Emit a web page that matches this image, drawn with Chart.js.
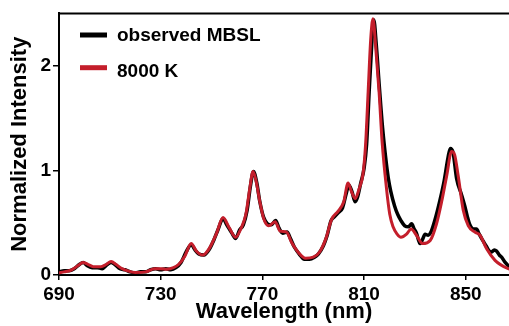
<!DOCTYPE html>
<html>
<head>
<meta charset="utf-8">
<script src="https://cdn.jsdelivr.net/npm/chart.js@4/dist/chart.umd.min.js"></script>
<style>
    html, body { margin: 0; padding: 0; background: #fff; overflow: hidden; }
    #wrap { width: 509px; height: 326px; position: relative; }
</style>
</head>
<body>
<div id="wrap"><canvas id="spectrumChart"></canvas></div>
<script>
// Observed MBSL spectrum (wavelength nm / normalized intensity)
const observedNm = [690, 692, 694, 696, 698, 699.5, 701, 703, 705, 707, 709, 710.5, 712, 714, 716, 718, 720, 722, 724, 726, 728, 730, 732, 734, 736, 738, 740, 742, 743.5, 745, 747, 749, 751, 752.5, 754.5, 756, 758, 759.5, 761, 762.5, 764, 765.3, 766.5, 767.8, 769, 770.5, 772, 773.5, 775.2, 776.5, 778, 779.7, 781, 782.5, 784.5, 786.5, 788.5, 790.5, 792, 794, 795.5, 797, 798.5, 800, 801.5, 803, 804, 805.2, 806.5, 807.5, 808.7, 810, 811, 812, 813, 813.8, 814.8, 816, 817.3, 818.5, 819.5, 820.5, 822, 823.2, 824.5, 826, 827.5, 828.7, 829.7, 830.6, 832, 833, 834, 835.2, 836.3, 837.8, 839.8, 841.5, 843, 843.9, 845, 846.4, 848.3, 849.6, 850.6, 851.6, 853, 854.2, 855.3, 856.2, 857.2, 858.2, 859.2, 860.2, 861.2, 862.1, 863.2, 864.1, 865.5, 866.7, 870];
const observedVal = [0.03, 0.04, 0.04, 0.06, 0.10, 0.12, 0.09, 0.07, 0.07, 0.06, 0.10, 0.12, 0.10, 0.06, 0.05, 0.03, 0.02, 0.03, 0.03, 0.05, 0.06, 0.05, 0.06, 0.05, 0.07, 0.12, 0.22, 0.29, 0.24, 0.20, 0.19, 0.24, 0.34, 0.43, 0.54, 0.48, 0.40, 0.35, 0.43, 0.48, 0.62, 0.85, 0.99, 0.88, 0.70, 0.55, 0.49, 0.48, 0.52, 0.45, 0.40, 0.41, 0.35, 0.27, 0.20, 0.15, 0.15, 0.17, 0.20, 0.28, 0.38, 0.52, 0.56, 0.60, 0.64, 0.78, 0.86, 0.80, 0.70, 0.75, 0.88, 1.02, 1.25, 1.75, 2.20, 2.44, 2.20, 1.80, 1.40, 1.12, 0.93, 0.80, 0.66, 0.58, 0.52, 0.47, 0.46, 0.49, 0.44, 0.40, 0.30, 0.34, 0.39, 0.38, 0.41, 0.52, 0.71, 0.90, 1.12, 1.21, 1.17, 0.92, 0.77, 0.66, 0.56, 0.48, 0.44, 0.44, 0.39, 0.35, 0.31, 0.27, 0.23, 0.22, 0.24, 0.23, 0.19, 0.17, 0.12, 0.09, 0.06];

// Simulated spectrum at 8000 K
const modelNm = [690, 692, 695, 697.5, 699.4, 701.5, 703.5, 706.5, 708.5, 710.5, 712.5, 714.5, 717, 720, 724, 727.6, 730, 732.5, 735, 737, 739.5, 742, 744, 746.5, 749, 752, 754.5, 757, 759.5, 761.5, 763.5, 765, 766.3, 767.5, 769, 770.5, 772.5, 775, 777, 779.5, 781.5, 784, 787, 790, 792.5, 795, 797.2, 799.8, 802, 803.7, 805, 806.5, 808, 809.6, 810.6, 811.6, 812.6, 813.5, 814.5, 815.9, 817.1, 818.8, 820.1, 821.4, 823, 824.5, 826.7, 828.5, 830.6, 833, 836, 838.5, 840.5, 842.5, 844.4, 845.6, 847, 849, 851, 853.6, 855.6, 858.2, 861.5, 866.7, 870];
const modelVal = [0.02, 0.03, 0.05, 0.09, 0.12, 0.10, 0.08, 0.08, 0.10, 0.13, 0.10, 0.065, 0.04, 0.025, 0.03, 0.06, 0.06, 0.055, 0.07, 0.10, 0.18, 0.30, 0.23, 0.19, 0.25, 0.40, 0.55, 0.45, 0.36, 0.44, 0.58, 0.82, 0.99, 0.90, 0.70, 0.54, 0.47, 0.51, 0.42, 0.41, 0.31, 0.22, 0.16, 0.17, 0.22, 0.35, 0.53, 0.61, 0.70, 0.88, 0.80, 0.73, 0.82, 0.97, 1.25, 1.75, 2.25, 2.45, 2.20, 1.75, 1.27, 0.83, 0.58, 0.46, 0.39, 0.36, 0.39, 0.44, 0.38, 0.30, 0.33, 0.49, 0.70, 0.95, 1.18, 1.15, 0.95, 0.62, 0.47, 0.41, 0.38, 0.25, 0.14, 0.06, 0.04];

const seriesLabels = ['observed MBSL', '8000 K'];
const seriesColors = ['#000000', '#c41e2b'];
const xTicks = [690, 730, 770, 810, 850];
const yTicks = [0, 1, 2];

const FONT = '"Liberation Sans", Arial, sans-serif';

function toPoints(xs, ys) {
    return xs.map((x, i) => ({ x: x, y: ys[i] }));
}

// top frame line + in-plot legend
const framePlugin = {
    id: 'frame',
    afterDraw(chart) {
        const ctx = chart.ctx;
        const area = chart.chartArea;
        ctx.save();
        ctx.strokeStyle = '#000';
        ctx.lineWidth = 2;
        ctx.beginPath();
        ctx.moveTo(area.left - 1, area.top);
        ctx.lineTo(chart.width, area.top);
        ctx.stroke();

        const rows = [{ y: 35, base: 40.5 }, { y: 67.7, base: 76.5 }];
        ctx.font = 'bold 19px ' + FONT;
        ctx.textBaseline = 'alphabetic';
        seriesLabels.forEach((label, i) => {
            ctx.strokeStyle = seriesColors[i];
            ctx.lineWidth = 5;
            ctx.beginPath();
            ctx.moveTo(80, rows[i].y);
            ctx.lineTo(107, rows[i].y);
            ctx.stroke();
            ctx.fillStyle = '#000';
            ctx.fillText(label, 117, rows[i].base);
        });
        ctx.restore();
    }
};

function renderChart() {
    const ctx = document.getElementById('spectrumChart').getContext('2d');
    new Chart(ctx, {
        type: 'line',
        data: {
            datasets: [
                {
                    label: seriesLabels[0],
                    data: toPoints(observedNm, observedVal),
                    borderColor: seriesColors[0],
                    borderWidth: 3.5,
                    pointRadius: 0,
                    cubicInterpolationMode: 'monotone',
                    order: 1
                },
                {
                    label: seriesLabels[1],
                    data: toPoints(modelNm, modelVal),
                    borderColor: seriesColors[1],
                    borderWidth: 3,
                    pointRadius: 0,
                    cubicInterpolationMode: 'monotone',
                    order: 0
                }
            ]
        },
        options: {
            responsive: true,
            maintainAspectRatio: false,
            animation: false,
            layout: { padding: { top: 11, left: 0, right: 0, bottom: 0 } },
            plugins: { legend: { display: false }, tooltip: { enabled: false } },
            scales: {
                x: {
                    type: 'linear',
                    min: 690,
                    max: 867,
                    afterBuildTicks: s => { s.ticks = xTicks.map(v => ({ value: v })); },
                    afterFit: s => { s.height = 51; },
                    grid: { drawOnChartArea: false, drawTicks: true, tickLength: 5, color: '#000', lineWidth: 1.5 },
                    border: { display: true, color: '#000', width: 2 },
                    ticks: { color: '#000', padding: 3, maxRotation: 0, font: { family: FONT, size: 19, weight: 'bold' } },
                    title: { display: true, text: 'Wavelength (nm)', color: '#000', padding: { top: 0, bottom: 1 }, font: { family: FONT, size: 22, weight: 'bold' } }
                },
                y: {
                    min: 0,
                    max: 2.5,
                    afterBuildTicks: s => { s.ticks = yTicks.map(v => ({ value: v })); },
                    afterFit: s => { s.width = 59; },
                    grid: { drawOnChartArea: false, drawTicks: true, tickLength: 6, color: '#000', lineWidth: 1.5 },
                    border: { display: true, color: '#000', width: 2 },
                    ticks: { color: '#000', padding: 2, font: { family: FONT, size: 19, weight: 'bold' } },
                    title: { display: true, text: 'Normalized Intensity', color: '#000', padding: { top: 7, bottom: 0 }, font: { family: FONT, size: 22, weight: 'bold' } }
                }
            }
        },
        plugins: [framePlugin]
    });
}

renderChart();
</script>
</body>
</html>
